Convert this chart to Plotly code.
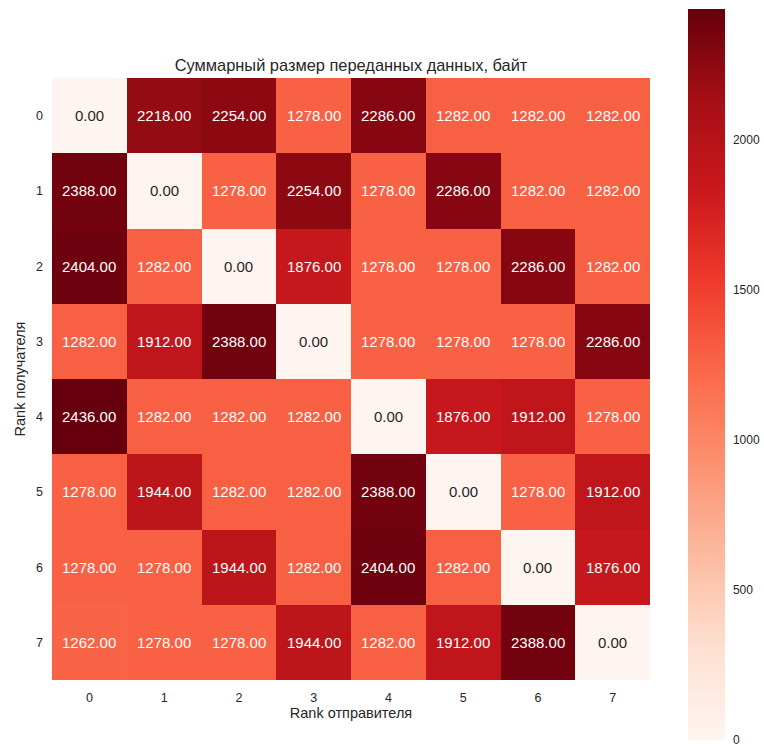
import plotly.graph_objects as go

# Ranks of sender (columns) and receiver (rows)
senders = [0, 1, 2, 3, 4, 5, 6, 7]
receivers = [0, 1, 2, 3, 4, 5, 6, 7]

# Total bytes transferred: row = receiver rank, column = sender rank
row_0 = [0, 2218, 2254, 1278, 2286, 1282, 1282, 1282]
row_1 = [2388, 0, 1278, 2254, 1278, 2286, 1282, 1282]
row_2 = [2404, 1282, 0, 1876, 1278, 1278, 2286, 1282]
row_3 = [1282, 1912, 2388, 0, 1278, 1278, 1278, 2286]
row_4 = [2436, 1282, 1282, 1282, 0, 1876, 1912, 1278]
row_5 = [1278, 1944, 1282, 1282, 2388, 0, 1278, 1912]
row_6 = [1278, 1278, 1944, 1282, 2404, 1282, 0, 1876]
row_7 = [1262, 1278, 1278, 1944, 1282, 1912, 2388, 0]
matrix = [row_0, row_1, row_2, row_3, row_4, row_5, row_6, row_7]

colorbar_ticks = [0, 500, 1000, 1500, 2000]

reds = [
    (255, 245, 240), (254, 224, 210), (252, 187, 161), (252, 146, 114),
    (251, 106, 74), (239, 59, 44), (203, 24, 29), (165, 15, 21), (103, 0, 13),
]
colorscale = [[i / (len(reds) - 1), "rgb(%d,%d,%d)" % c] for i, c in enumerate(reds)]

zmin = 0
zmax = max(max(r) for r in matrix)


def cell_rgb(v):
    t = (v - zmin) / (zmax - zmin) * (len(reds) - 1)
    i = min(int(t), len(reds) - 2)
    f = t - i
    return [reds[i][k] + (reds[i + 1][k] - reds[i][k]) * f for k in range(3)]


def luminance(rgb):
    out = []
    for c in rgb:
        c = c / 255.0
        out.append(c / 12.92 if c <= 0.03928 else ((c + 0.055) / 1.055) ** 2.4)
    return 0.2126 * out[0] + 0.7152 * out[1] + 0.0722 * out[2]


FONT = "Liberation Sans, Arial, sans-serif"
INK = "#262626"

# plot area in pixels: x 52..650, y 78..680
PLOT_LEFT, PLOT_RIGHT = 52, 650
PLOT_TOP, PLOT_BOTTOM = 78, 680
plot_w = PLOT_RIGHT - PLOT_LEFT
plot_h = PLOT_BOTTOM - PLOT_TOP
cb_bottom_px = 740
cb_len_px = 731

fig = go.Figure(
    go.Heatmap(
        z=matrix,
        x=senders,
        y=receivers,
        colorscale=colorscale,
        zmin=zmin,
        zmax=zmax,
        hovertemplate="отправитель %{x}<br>получатель %{y}<br>%{z:.2f}<extra></extra>",
        colorbar=dict(
            x=(688 - PLOT_LEFT) / plot_w,
            xanchor="left",
            y=(PLOT_BOTTOM - cb_bottom_px) / plot_h,
            yanchor="bottom",
            lenmode="pixels",
            len=cb_len_px,
            thicknessmode="pixels",
            thickness=37,
            xpad=0,
            ypad=0,
            outlinewidth=0,
            tickvals=colorbar_ticks,
            ticks="outside",
            ticklen=6,
            tickcolor="rgba(0,0,0,0)",
            ticklabeloverflow="allow",
            tickfont=dict(family=FONT, size=12, color=INK),
        ),
    )
)

annotations = []
for r, row in zip(receivers, matrix):
    for s, v in zip(senders, row):
        color = INK if luminance(cell_rgb(v)) > 0.408 else "white"
        annotations.append(
            dict(
                x=s, y=r, xref="x", yref="y", text="%.2f" % v, showarrow=False,
                font=dict(family=FONT, size=15, color=color),
            )
        )

fig.update_layout(
    width=764,
    height=747,
    margin=dict(l=PLOT_LEFT, r=764 - PLOT_RIGHT, t=PLOT_TOP, b=747 - PLOT_BOTTOM,
                autoexpand=False),
    paper_bgcolor="white",
    plot_bgcolor="white",
    title=dict(
        text="Суммарный размер переданных данных, байт",
        x=351 / 764, xanchor="center", y=1 - 65 / 747, yanchor="middle",
        font=dict(family=FONT, size=16.4, color=INK),
    ),
    xaxis=dict(
        tickvals=senders, ticks="", showgrid=False, zeroline=False,
        tickfont=dict(family=FONT, size=12.5, color=INK),
        ticklabelstandoff=8,
        title=dict(text="Rank отправителя", font=dict(family=FONT, size=14.5, color=INK), standoff=4),
    ),
    yaxis=dict(
        tickvals=receivers, ticks="", showgrid=False, zeroline=False,
        autorange="reversed",
        tickfont=dict(family=FONT, size=12.5, color=INK),
        ticklabelstandoff=8,
        title=dict(text="Rank получателя", font=dict(family=FONT, size=14.5, color=INK), standoff=6),
    ),
    annotations=annotations,
)

fig.write_html("out.html")
